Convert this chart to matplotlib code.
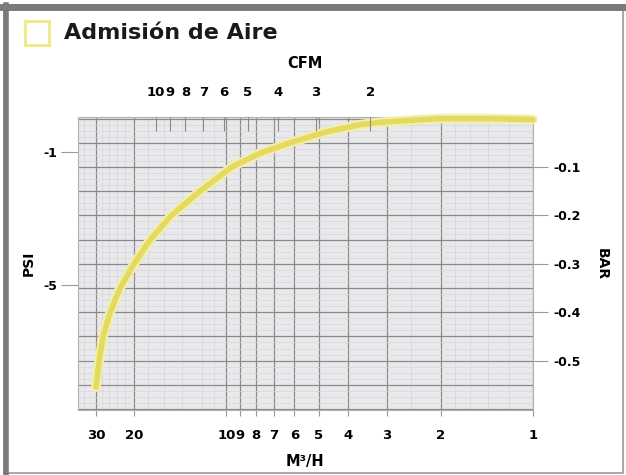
import numpy as np
import matplotlib.pyplot as plt
from matplotlib.ticker import FixedLocator, NullFormatter
from matplotlib.patches import Rectangle

# curve: flow in m3/h, vacuum in bar
flow_m3h = [30, 29.0, 27.8, 25.8, 23.2, 20.0, 17.7, 15.1, 12.2, 9.6, 7.8, 6.2, 4.7, 3.7, 3.2, 2.3, 2.0, 1.4, 1.0]
vac_bar = [-0.555, -0.50, -0.45, -0.40, -0.35, -0.30, -0.25, -0.20, -0.15, -0.10, -0.072,
           -0.05, -0.027, -0.013, -0.008, -0.002, 0.0, 0.0, -0.002]

m3h_ticks = [30, 20, 10, 9, 8, 7, 6, 5, 4, 3, 2, 1]
cfm_ticks = [10, 9, 8, 7, 6, 5, 4, 3, 2]
bar_ticks = [-0.1, -0.2, -0.3, -0.4, -0.5]
psi_ticks = [-1, -5]

CFM_TO_M3H = 1.699
BAR_TO_PSI = 14.5038

# the printed flow axis is logarithmic, but the 30-20 stretch is squeezed
_lg = [-1.0, 0.0, np.log10(20), np.log10(30), 2.0]
_pos = [-1.0, 0.0, np.log10(20), np.log10(20) + 0.176 * 0.705, np.log10(20) + 0.176 * 0.705 + 0.523 * 0.705]


def fwd(x):
    return np.interp(np.log10(np.maximum(x, 1e-6)), _lg, _pos)


def inv(p):
    return 10 ** np.interp(p, _pos, _lg)


plt.rcParams['font.family'] = ['DejaVu Sans']
plt.rcParams['font.weight'] = 'bold'

fig = plt.figure(figsize=(6.26, 4.75), dpi=100)
fig.patch.set_facecolor('white')

# outer frame
fig.add_artist(Rectangle((0.006, 0.004), 0.99, 0.985, transform=fig.transFigure,
                         fill=False, edgecolor='#9a9a9a', lw=1.2))
fig.add_artist(plt.Line2D([0.005, 1.0], [0.986, 0.986], transform=fig.transFigure,
                          color='#7a7a7a', lw=5))
fig.add_artist(plt.Line2D([0.01, 0.01], [0.0, 0.99], transform=fig.transFigure,
                          color='#7a7a7a', lw=4))

ax = fig.add_axes([0.1243, 0.1358, 0.7271, 0.6185])
ax.set_facecolor('#e9e9ec')
ax.set_xscale('function', functions=(fwd, inv))
ax.set_xlim(36.4, 1)
ax.set_ylim(-0.603, 0.004)

# grid
ax.xaxis.set_major_locator(FixedLocator(m3h_ticks))
ax.set_xticklabels([str(t) for t in m3h_ticks])
ax.xaxis.set_minor_locator(FixedLocator([34, 28, 26, 24, 22, 18, 16, 14, 12, 11,
                                         2.5, 1.8, 1.6, 1.4, 1.2]))
ax.xaxis.set_minor_formatter(NullFormatter())
ax.yaxis.set_major_locator(FixedLocator(np.arange(-0.6, 0.001, 0.05)))
ax.yaxis.set_minor_locator(FixedLocator(np.arange(-0.6, 0.001, 0.0125)))
ax.grid(True, which='major', color='#8a8a8a', lw=0.9)
ax.grid(True, which='minor', color='#d6d6da', lw=0.5)
ax.tick_params(axis='y', which='both', left=False, labelleft=False)
ax.tick_params(axis='x', which='major', direction='out', length=4, color='#999999',
               labelsize=9.5, pad=9)
ax.tick_params(axis='x', which='minor', length=0)
ax.set_axisbelow(True)
for s in ax.spines.values():
    s.set_color('#b0b0b0')
    s.set_linewidth(0.8)

ax.plot(flow_m3h, vac_bar, color='#f3efa8', lw=7, solid_capstyle='round',
        solid_joinstyle='round', clip_on=False, zorder=3)
ax.plot(flow_m3h, vac_bar, color='#e4da62', lw=4, solid_capstyle='round',
        solid_joinstyle='round', clip_on=False, zorder=4)

ax.set_xlabel('M³/H', fontsize=10.5, fontweight='bold', labelpad=9)

# top CFM axis, same flow scale, ticks at the CFM equivalents
top = ax.twiny()
top.set_xscale('function', functions=(fwd, inv))
top.set_xlim(ax.get_xlim())
top.xaxis.set_major_locator(FixedLocator([c * CFM_TO_M3H for c in cfm_ticks]))
top.set_xticklabels([str(c) for c in cfm_ticks])
top.xaxis.set_minor_locator(FixedLocator([]))
top.tick_params(axis='x', direction='in', length=10, color='#8a8a8a', width=0.8,
                labelsize=9.5, pad=13)
top.tick_params(axis='y', left=False, right=False, labelleft=False, labelright=False)
top.set_xlabel('CFM', fontsize=10.5, fontweight='bold', labelpad=13)
for s in top.spines.values():
    s.set_visible(False)

# right BAR axis
right = ax.secondary_yaxis('right')
right.set_yticks(bar_ticks)
right.set_yticklabels([f'{b:.1f}' for b in bar_ticks])
right.yaxis.set_minor_locator(FixedLocator([]))
right.tick_params(direction='out', length=11, color='#9a9a9a', width=0.8, labelsize=9, pad=4)
right.set_ylabel('BAR', fontsize=10, fontweight='bold', rotation=270, labelpad=20)
right.spines['right'].set_visible(False)

# left PSI axis
left = ax.secondary_yaxis('left', functions=(lambda b: b * BAR_TO_PSI, lambda p: p / BAR_TO_PSI))
left.set_yticks(psi_ticks)
left.set_yticklabels([str(p) for p in psi_ticks])
left.yaxis.set_minor_locator(FixedLocator([]))
left.tick_params(direction='out', length=12, color='#9a9a9a', width=0.8, labelsize=9, pad=3)
left.set_ylabel('PSI', fontsize=10, fontweight='bold', labelpad=5)
left.spines['left'].set_visible(False)

# legend box
fig.add_artist(Rectangle((25 / 626, 1 - 45 / 475), 24 / 626, 24 / 475, transform=fig.transFigure,
                         fill=False, edgecolor='#eeea8a', lw=2.2))
fig.text(64 / 626, 1 - 33 / 475, 'Admisión de Aire', fontsize=16, fontweight='bold',
         va='center', ha='left', color='#1a1a1a')

fig.savefig('out.png', dpi=100)
